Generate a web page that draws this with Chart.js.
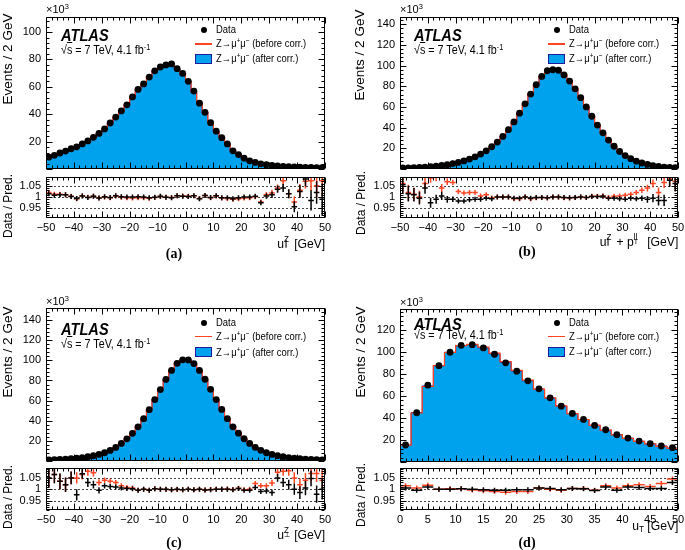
<!DOCTYPE html>
<html><head><meta charset="utf-8">
<script src="https://cdn.jsdelivr.net/npm/chart.js@4.4.1/dist/chart.umd.min.js"></script>
<style>
html,body{margin:0;padding:0;background:#fff;}
body{width:685px;height:550px;position:relative;overflow:hidden;font-family:"Liberation Sans",Arial,sans-serif;color:#000;}
canvas{position:absolute;}
.t{position:absolute;white-space:nowrap;line-height:1;}
.sp{position:relative;font-size:.68em;top:-.5em;}
.ss{display:inline-block;position:relative;width:.55em;height:1em;vertical-align:baseline;}
.ss .u{position:absolute;left:0;top:.16em;font-size:.66em;line-height:1;}
.ss .d{position:absolute;left:0;top:.86em;font-size:.58em;line-height:1;}
</style></head><body>
<script>
// ---------------- data ----------------
const binsSym = [-49,-47,-45,-43,-41,-39,-37,-35,-33,-31,-29,-27,-25,-23,-21,-19,-17,-15,-13,-11,-9,-7,-5,-3,-1,1,3,5,7,9,11,13,15,17,19,21,23,25,27,29,31,33,35,37,39,41,43,45,47,49];
const binsUT = [1,3,5,7,9,11,13,15,17,19,21,23,25,27,29,31,33,35,37,39,41,43,45,47,49];
const binHalfWidth = 1;

// (a) u_par^Z  [x10^3 events / 2 GeV]
const dataA   = [8.6,10.0,11.7,13.1,14.8,16.2,18.3,20.5,23.1,26.0,29.3,33.6,37.9,42.4,46.9,52.6,58.1,62.1,67.1,71.7,74.5,76.0,76.7,73.3,69.8,64.0,56.9,48.1,41.4,33.8,27.6,22.9,18.3,13.3,10.5,7.9,6.0,4.8,3.8,3.1,2.6,2.2,1.9,1.7,1.5,1.3,1.2,1.1,1.0,0.9];
const beforeA = [8.5,9.9,11.6,13.0,14.7,16.3,18.2,20.5,23.0,26.1,29.3,33.7,37.7,42.4,47.0,52.8,58.3,62.3,67.4,71.8,74.3,76.1,76.8,72.9,69.5,63.8,56.6,48.4,41.1,33.9,27.5,23.0,18.4,13.4,10.6,7.9,6.0,4.8,3.9,3.1,2.6,2.1,1.8,1.7,1.5,1.3,1.1,1.0,1.0,0.8];
const afterA  = [8.5,9.9,11.6,13.0,14.8,16.3,18.2,20.5,23.0,26.1,29.3,33.7,37.7,42.4,46.9,52.6,58.0,62.1,67.3,71.8,74.3,76.1,76.9,72.9,69.5,63.9,56.6,48.4,41.1,33.9,27.4,23.0,18.4,13.4,10.5,7.9,6.0,4.8,3.9,3.1,2.6,2.1,1.8,1.7,1.6,1.3,1.1,1.1,1.0,0.9];
const ratioBeforeA = [1.020,1.012,1.012,1.010,1.004,0.992,1.006,0.999,1.004,0.996,1.000,0.997,1.005,0.999,0.997,0.996,0.997,0.997,0.995,0.998,1.002,0.999,0.998,1.006,1.005,1.003,1.006,0.994,1.007,0.997,1.005,0.996,0.994,0.990,0.993,0.996,0.997,1.001,0.978,1.010,1.018,1.040,1.072,1.015,0.978,1.030,1.070,1.072,1.050,1.072];
const ratioAfterA  = [1.015,1.008,1.010,1.010,1.002,0.994,1.005,0.998,1.004,0.996,1.001,0.998,1.006,1.001,1.000,1.000,1.001,1.000,0.997,0.999,1.003,0.999,0.997,1.006,1.004,1.002,1.006,0.993,1.007,0.998,1.006,0.997,0.997,0.993,0.997,1.000,1.000,1.003,0.975,1.005,1.010,1.035,1.040,1.015,0.957,1.025,1.080,0.985,1.020,0.990];
const errA = [0.004,0.004,0.004,0.004,0.004,0.003,0.003,0.003,0.003,0.003,0.003,0.003,0.002,0.002,0.002,0.002,0.002,0.002,0.002,0.002,0.002,0.002,0.002,0.002,0.002,0.002,0.002,0.002,0.002,0.003,0.003,0.003,0.004,0.004,0.005,0.006,0.007,0.008,0.010,0.012,0.014,0.016,0.018,0.020,0.024,0.028,0.032,0.045,0.050,0.070];

// (b) u_par^Z + pT^ll
const dataB   = [1.0,1.1,1.3,1.6,1.9,2.3,2.8,3.4,4.2,5.2,6.4,7.8,9.6,11.8,14.4,17.6,21.5,26.0,31.5,38.0,45.5,54.0,63.0,72.5,81.5,89.5,95.0,96.0,95.5,91.0,85.0,77.5,69.0,60.0,51.0,42.5,35.0,28.0,22.0,17.0,13.0,10.0,7.6,5.8,4.4,3.3,2.5,1.9,1.5,1.2];
const beforeB = [0.9,1.1,1.3,1.6,1.8,2.1,2.6,3.3,3.9,4.9,6.2,7.7,9.4,11.6,14.3,17.4,21.6,26.0,31.5,38.0,45.8,54.4,63.0,73.0,81.7,89.7,95.4,96.0,95.5,91.3,85.3,77.6,69.0,60.1,50.8,42.4,34.8,28.1,21.9,16.9,12.9,9.9,7.5,5.6,4.2,3.1,2.5,1.8,1.4,1.1];
const afterB  = [0.9,1.1,1.3,1.6,1.8,2.4,2.8,3.4,4.2,5.3,6.5,7.9,9.7,11.9,14.5,17.7,21.7,26.0,31.5,38.0,45.7,54.3,63.0,72.9,81.7,89.7,95.3,96.0,95.5,91.2,85.3,77.7,69.0,60.1,50.9,42.4,34.9,28.1,22.1,17.1,13.1,10.1,7.7,5.8,4.4,3.3,2.5,1.9,1.4,1.1];
const ratioBeforeB = [1.060,1.020,1.012,1.000,1.060,1.085,1.090,1.040,1.068,1.065,1.025,1.018,1.020,1.020,1.005,1.010,0.996,1.000,1.000,1.000,0.993,0.993,1.000,0.993,0.997,0.998,0.996,1.000,1.000,0.997,0.996,0.998,1.000,0.998,1.003,1.003,1.005,0.998,1.003,1.005,1.008,1.012,1.020,1.030,1.040,1.060,1.020,1.065,1.080,1.070];
const ratioAfterB  = [1.055,1.015,1.010,0.995,1.040,0.975,0.990,1.005,0.990,0.990,0.983,0.983,0.988,0.990,0.990,0.995,0.992,1.000,1.000,1.000,0.995,0.995,1.000,0.995,0.998,0.998,0.997,1.000,1.000,0.998,0.997,0.998,1.000,0.998,1.002,1.002,1.004,0.995,0.995,0.993,0.990,0.995,0.993,0.995,0.990,0.995,0.985,0.985,1.075,1.060];
const errB = [0.040,0.035,0.030,0.028,0.025,0.022,0.020,0.018,0.015,0.012,0.010,0.009,0.008,0.007,0.006,0.005,0.004,0.003,0.003,0.002,0.002,0.002,0.002,0.002,0.002,0.002,0.002,0.002,0.002,0.002,0.002,0.002,0.002,0.002,0.003,0.003,0.004,0.004,0.005,0.006,0.007,0.008,0.010,0.012,0.015,0.018,0.022,0.025,0.030,0.035];

// (c) u_perp^Z
const dataC   = [1.1,1.3,1.6,1.9,2.3,2.8,3.4,4.2,5.2,6.5,8.2,10.5,13.5,17.5,22.0,27.5,34.0,42.0,51.0,61.0,71.0,81.0,90.0,97.0,100.5,100.4,96.8,90.0,81.2,71.2,61.0,51.2,42.0,34.0,27.6,22.1,17.5,13.6,10.6,8.2,6.5,5.3,4.2,3.4,2.8,2.3,1.9,1.6,1.3,1.1];
const beforeC = [1.0,1.2,1.5,1.9,2.2,2.7,3.2,3.9,4.8,6.3,7.9,10.1,13.1,17.2,21.8,27.4,34.1,42.0,51.3,60.9,71.0,81.1,90.2,97.1,100.7,100.4,97.0,90.0,81.4,71.3,61.0,51.2,42.0,34.0,27.5,22.1,17.5,13.3,10.4,8.1,6.3,4.9,3.9,3.1,2.7,2.3,1.8,1.5,1.2,1.1];
const afterC  = [1.0,1.2,1.5,1.9,2.2,2.9,3.2,4.1,5.1,6.5,8.1,10.4,13.4,17.4,21.9,27.4,34.2,42.0,51.3,60.9,71.0,81.0,90.2,97.0,100.7,100.4,97.0,90.0,81.4,71.3,61.0,51.2,42.0,34.1,27.5,22.2,17.6,13.5,10.7,8.3,6.6,5.0,4.1,3.3,2.8,2.3,1.9,1.5,1.3,1.1];
const ratioBeforeC = [1.050,1.065,1.035,1.020,1.050,1.050,1.065,1.080,1.073,1.030,1.040,1.035,1.030,1.015,1.008,1.005,0.996,1.000,0.995,1.002,1.000,0.999,0.998,0.999,0.998,1.000,0.998,1.000,0.997,0.999,1.000,1.000,1.001,0.999,1.004,0.998,1.000,1.025,1.015,1.015,1.028,1.075,1.080,1.082,1.050,1.020,1.040,1.070,1.070,1.040];
const ratioAfterC  = [1.050,1.065,1.035,1.020,1.050,0.975,1.068,1.030,1.020,0.995,1.015,1.012,1.010,1.005,1.003,1.002,0.995,1.000,0.995,1.002,1.000,1.000,0.998,1.000,0.998,1.000,0.998,1.000,0.997,0.998,1.000,1.000,1.000,0.998,1.003,0.995,0.995,1.008,0.990,0.992,0.985,1.050,1.030,1.020,1.000,0.985,1.005,1.048,0.978,1.000];
const errC = [0.040,0.038,0.035,0.032,0.028,0.025,0.022,0.020,0.017,0.014,0.012,0.010,0.008,0.007,0.006,0.005,0.004,0.003,0.002,0.002,0.002,0.002,0.002,0.002,0.002,0.002,0.002,0.002,0.002,0.002,0.002,0.002,0.003,0.004,0.005,0.006,0.007,0.008,0.010,0.012,0.014,0.017,0.020,0.022,0.025,0.028,0.032,0.035,0.038,0.045];

// (d) u_T
const dataD   = [15.4,44.6,69.6,87.3,99.4,105.7,106.3,103.3,97.6,89.8,82.2,73.5,66.3,58.1,50.6,44.0,38.6,33.1,29.2,24.7,21.7,19.0,16.6,14.5,13.0];
const beforeD = [15.2,44.4,68.4,87.3,99.2,105.5,106.6,104.0,98.6,91.0,83.0,74.2,66.0,58.1,50.9,43.9,38.5,33.2,28.8,24.6,21.4,18.6,16.4,14.1,12.4];
const afterD  = [15.3,44.8,68.9,87.3,99.4,105.5,106.3,103.5,98.1,90.3,82.4,73.6,66.0,57.9,50.7,43.9,38.5,33.3,28.9,24.8,21.5,18.8,16.5,14.5,12.6];
const ratioBeforeD = [1.015,1.005,1.018,1.000,1.002,1.002,0.997,0.993,0.990,0.987,0.990,0.990,1.005,1.000,0.995,1.003,1.003,0.996,1.015,1.005,1.015,1.020,1.012,1.025,1.045];
const ratioAfterD  = [1.005,0.995,1.010,1.000,1.000,1.002,1.000,0.998,0.995,0.995,0.998,0.998,1.005,1.003,0.998,1.003,1.002,0.994,1.010,0.995,1.010,1.008,1.003,1.003,1.030];
const errD = [0.006,0.004,0.003,0.003,0.002,0.002,0.002,0.002,0.002,0.002,0.002,0.003,0.003,0.003,0.003,0.003,0.004,0.004,0.004,0.005,0.005,0.005,0.006,0.006,0.007];

// tick labels
const yTicksA = [20,40,60,80,100];
const yTicksB = [20,40,60,80,100,120,140];
const yTicksC = [20,40,60,80,100,120,140];
const yTicksD = [20,40,60,80,100,120];
const xTicksSym = [-50,-40,-30,-20,-10,0,10,20,30,40,50];
const xTicksUT = [0,5,10,15,20,25,30,35,40,45,50];
const ratioTicks = [0.95,1,1.05];

// ---------------- style ----------------
const FONT = '"Liberation Sans", Arial, sans-serif';
const BLUE = '#00a2ee', NAVY = '#1a1a9a', RED = '#ff4422';

const atlasPlugin = {
  id: 'atlasFrame',
  defaults: {},
  beforeDatasetsDraw(chart, args, o) {
    if (!o.refLines) return;
    const {ctx, chartArea: a, scales: {y}} = chart;
    ctx.save(); ctx.setLineDash([2, 2]); ctx.strokeStyle = '#444'; ctx.lineWidth = 1;
    o.refLines.forEach(v => {
      const py = Math.round(y.getPixelForValue(v)) + 0.5;
      ctx.beginPath(); ctx.moveTo(a.left, py); ctx.lineTo(a.right, py); ctx.stroke();
    });
    ctx.restore();
  },
  afterDatasetsDraw(chart) {
    const {ctx, chartArea: a, scales: {x, y}} = chart;
    chart.data.datasets.forEach(ds => {
      if (!ds.errs) return;
      ctx.save();
      ctx.beginPath(); ctx.rect(a.left, a.top, a.right - a.left, a.bottom - a.top); ctx.clip();
      ctx.strokeStyle = ds.borderColor; ctx.lineWidth = 1.5;
      ds.data.forEach((p, j) => {
        const px = x.getPixelForValue(p.x), py = y.getPixelForValue(p.y);
        const x0 = x.getPixelForValue(p.x - ds.halfW), x1 = x.getPixelForValue(p.x + ds.halfW);
        const y0 = y.getPixelForValue(p.y - ds.errs[j]), y1 = y.getPixelForValue(p.y + ds.errs[j]);
        ctx.beginPath(); ctx.moveTo(x0, py); ctx.lineTo(x1, py);
        ctx.moveTo(px, Math.max(y0, py + 2.5)); ctx.lineTo(px, Math.min(y1, py - 2.5)); ctx.stroke();
      });
      ctx.restore();
    });
  },
  afterDraw(chart, args, o) {
    const {ctx, chartArea: a, scales: {x, y}} = chart;
    ctx.save(); ctx.strokeStyle = '#000'; ctx.lineWidth = 1;
    const L = Math.round(a.left) + 0.5, R = Math.round(a.right) - 0.5, T = Math.round(a.top) + 0.5, B = Math.round(a.bottom) - 0.5;
    ctx.strokeRect(L, T, R - L, B - T);
    ctx.beginPath();
    const each = (min, max, minor, major, fn) => {
      const k0 = Math.ceil(min / minor - 1e-9), k1 = Math.floor(max / minor + 1e-9);
      for (let k = k0; k <= k1; k++) { const v = k * minor, r = v / major; fn(v, Math.abs(r - Math.round(r)) < 1e-6); }
    };
    each(x.min, x.max, o.xMinor, o.xMajor, (v, maj) => {
      const p = Math.round(x.getPixelForValue(v)) + 0.5, len = maj ? o.xLen : o.xLen / 2;
      ctx.moveTo(p, B); ctx.lineTo(p, B - len); ctx.moveTo(p, T); ctx.lineTo(p, T + len);
    });
    each(y.min, y.max, o.yMinor, o.yMajor, (v, maj) => {
      const p = Math.round(y.getPixelForValue(v)) + 0.5, len = maj ? o.yLen : o.yLen / 2;
      ctx.moveTo(L, p); ctx.lineTo(L + len, p); ctx.moveTo(R, p); ctx.lineTo(R - len, p);
    });
    ctx.stroke(); ctx.restore();
  }
};
Chart.register(atlasPlugin);

function place(rect, xh) {
  const YW = 46, PT = 4, PR = 12, PB = xh ? 0 : 2;
  const cv = document.createElement('canvas');
  const w = Math.round(rect.r - rect.l) + YW + PR, h = Math.round(rect.b - rect.t) + PT + xh + PB;
  cv.width = w; cv.height = h;
  cv.style.left = (rect.l - YW) + 'px'; cv.style.top = (rect.t - PT) + 'px';
  cv.style.width = w + 'px'; cv.style.height = h + 'px';
  document.body.appendChild(cv);
  return {cv, pad: {left: 0, top: PT, right: PR, bottom: PB}, YW};
}

function histPoints(bins, vals) {
  const pts = [{x: bins[0] - binHalfWidth, y: 0}];
  bins.forEach((c, i) => pts.push({x: c - binHalfWidth, y: vals[i]}));
  const last = bins[bins.length - 1] + binHalfWidth;
  pts.push({x: last, y: vals[vals.length - 1]});
  pts.push({x: last, y: 0});
  return pts;
}
const fmtX = v => (v < 0 ? '\u2212' + Math.abs(v) : String(v));

function yAxis(min, max, ticks, YW, cb) {
  return {
    type: 'linear', min, max,
    afterFit: s => { s.width = YW; s.paddingTop = 0; s.paddingBottom = 0; },
    afterBuildTicks: s => { s.ticks = ticks.map(v => ({value: v})); },
    grid: {display: false, drawTicks: false}, border: {display: false},
    ticks: {padding: 5, color: '#000', font: {family: FONT, size: 11}, autoSkip: false, callback: cb || (v => String(v))}
  };
}

function makePanel(P) {
  // main
  const m = place(P.main, 0);
  new Chart(m.cv, {
    type: 'scatter',
    data: {datasets: [
      {label: 'Data', data: P.bins.map((c, i) => ({x: c, y: P.data[i]})), showLine: false,
       pointRadius: 3.4, pointBackgroundColor: '#000', pointBorderWidth: 0, order: 0},
      {label: 'before', data: histPoints(P.bins, P.before), showLine: true, stepped: true,
       borderColor: RED, borderWidth: 1.2, pointRadius: 0, fill: false, order: 1},
      {label: 'after', data: histPoints(P.bins, P.after), showLine: true, stepped: true,
       borderColor: NAVY, borderWidth: 1, backgroundColor: BLUE, fill: 'origin', pointRadius: 0, order: 2}
    ]},
    options: {
      responsive: false, animation: false, events: [],
      layout: {padding: m.pad},
      plugins: {legend: {display: false}, tooltip: {enabled: false},
        atlasFrame: {xMinor: P.xMinor, xMajor: P.xMajor, yMinor: P.yMinor, yMajor: P.yMajor, xLen: 6, yLen: 6}},
      scales: {
        x: {type: 'linear', min: P.xMin, max: P.xMax, display: false},
        y: yAxis(0, P.yMax, P.yTicks, m.YW)
      }
    }
  });
  // ratio
  const r = place(P.ratio, 22);
  new Chart(r.cv, {
    type: 'scatter',
    data: {datasets: [
      {label: 'before', data: P.bins.map((c, i) => ({x: c, y: P.rBefore[i]})), errs: P.err, halfW: binHalfWidth,
       borderColor: RED, pointRadius: 0, showLine: false},
      {label: 'after', data: P.bins.map((c, i) => ({x: c, y: P.rAfter[i]})), errs: P.err, halfW: binHalfWidth,
       borderColor: '#000', pointRadius: 0, showLine: false}
    ]},
    options: {
      responsive: false, animation: false, events: [],
      layout: {padding: r.pad},
      plugins: {legend: {display: false}, tooltip: {enabled: false},
        atlasFrame: {xMinor: P.xMinor, xMajor: P.xMajor, yMinor: 0.01, yMajor: 0.05, xLen: 6, yLen: 6, refLines: ratioTicks}},
      scales: {
        x: {type: 'linear', min: P.xMin, max: P.xMax,
            afterFit: s => { s.height = 22; s.paddingLeft = 0; s.paddingRight = 0; },
            afterBuildTicks: s => { s.ticks = P.xTicks.map(v => ({value: v})); },
            grid: {display: false, drawTicks: false}, border: {display: false},
            ticks: {padding: 3, color: '#000', font: {family: FONT, size: 11}, autoSkip: false, maxRotation: 0, callback: fmtX}},
        y: yAxis(P.rMin, P.rMax, ratioTicks, r.YW, v => String(v))
      }
    }
  });
}

// ---------------- text helpers ----------------
function T(html, x, y, css) {
  const d = document.createElement('div'); d.className = 't'; d.innerHTML = html;
  d.style.left = x + 'px'; d.style.top = y + 'px';
  Object.assign(d.style, css || {}); document.body.appendChild(d); return d;
}
function box(x, y, w, h, css) {
  const d = document.createElement('div'); d.style.position = 'absolute';
  d.style.left = x + 'px'; d.style.top = y + 'px'; d.style.width = w + 'px'; d.style.height = h + 'px';
  Object.assign(d.style, css); document.body.appendChild(d);
}
const ZMM = 'Z\u2192\u03bc<span class="sp">+</span>\u03bc<span class="sp">\u2212</span>';
function decorate(D) {
  T('\u00d710<span class="sp">3</span>', D.exp[0], D.exp[1], {fontSize: '11px'});
  T('ATLAS', D.atlas[0], D.atlas[1], {fontSize: '17px', fontWeight: 'bold', fontStyle: 'italic', transform: 'scaleX(.86)', transformOrigin: '0 0'});
  T('\u221a<span style="text-decoration:overline">s</span> = 7 TeV, 4.1 fb<span class="sp">-1</span>', D.sqrt[0], D.sqrt[1],
    {fontSize: '12.5px', transform: 'scaleX(.86)', transformOrigin: '0 0'});
  const lg = {fontSize: '11.5px', transform: 'scaleX(.82)', transformOrigin: '0 0'};
  box(D.dotX - 3.2, D.ly[0] - 3.2, 6.4, 6.4, {background: '#000', borderRadius: '50%'});
  T('Data', D.textX, D.ly[0] - 5.6, lg);
  box(D.lineX, D.ly[1] - 0.75, 17, 1.5, {background: RED});
  T(ZMM + ' (before corr.)', D.textX, D.ly[1] - 5.6, lg);
  box(D.lineX, D.ly[2] - 5, 17, 10, {background: BLUE, border: '1.5px solid ' + NAVY, boxSizing: 'border-box'});
  T(ZMM + ' (after corr.)', D.textX, D.ly[2] - 5.6, lg);
  T('Events / 2 GeV', D.yt1[0], D.yt1[1], {fontSize: '13.5px', transform: 'translate(-50%,-50%) rotate(-90deg)'});
  T('Data / Pred.', D.yt2[0], D.yt2[1], {fontSize: '12px', transform: 'translate(-50%,-50%) rotate(-90deg)'});
  const xt = T(D.xtitle, 0, D.xt[1], {fontSize: '13.5px', transform: 'scaleX(.9)', transformOrigin: '100% 0'});
  xt.style.left = ''; xt.style.right = (685 - D.xt[0]) + 'px';
  T(D.label, D.lab[0], D.lab[1], {fontSize: '14px', fontWeight: 'bold', fontFamily: '"Liberation Serif", serif', transform: 'translate(-50%,-50%)'});
}
const SS = (u, d) => '<span class="ss"><span class="u">' + u + '</span><span class="d">' + d + '</span></span>';

// ---------------- panels ----------------
const panels = [
  {bins: binsSym, data: dataA, before: beforeA, after: afterA, rBefore: ratioBeforeA, rAfter: ratioAfterA, err: errA,
   main: {l: 46, r: 325, t: 17, b: 171}, ratio: {l: 46, r: 325, t: 177, b: 218}, yMax: 111, yTicks: yTicksA,
   rMin: 0.907, rMax: 1.089, xMin: -50, xMax: 50, xTicks: xTicksSym, xMajor: 10, xMinor: 2, yMajor: 20, yMinor: 4},
  {bins: binsSym, data: dataB, before: beforeB, after: afterB, rBefore: ratioBeforeB, rAfter: ratioAfterB, err: errB,
   main: {l: 400, r: 678, t: 17, b: 171}, ratio: {l: 400, r: 678, t: 177, b: 218}, yMax: 147, yTicks: yTicksB,
   rMin: 0.907, rMax: 1.089, xMin: -50, xMax: 50, xTicks: xTicksSym, xMajor: 10, xMinor: 2, yMajor: 20, yMinor: 4},
  {bins: binsSym, data: dataC, before: beforeC, after: afterC, rBefore: ratioBeforeC, rAfter: ratioAfterC, err: errC,
   main: {l: 46, r: 325, t: 308, b: 463}, ratio: {l: 46, r: 325, t: 468, b: 510}, yMax: 152, yTicks: yTicksC,
   rMin: 0.908, rMax: 1.094, xMin: -50, xMax: 50, xTicks: xTicksSym, xMajor: 10, xMinor: 2, yMajor: 20, yMinor: 4},
  {bins: binsUT, data: dataD, before: beforeD, after: afterD, rBefore: ratioBeforeD, rAfter: ratioAfterD, err: errD,
   main: {l: 400, r: 678, t: 309, b: 464}, ratio: {l: 400, r: 678, t: 468, b: 510}, yMax: 138.6, yTicks: yTicksD,
   rMin: 0.908, rMax: 1.094, xMin: 0, xMax: 50, xTicks: xTicksUT, xMajor: 5, xMinor: 1, yMajor: 20, yMinor: 4}
];
panels.forEach(makePanel);

decorate({exp: [46, 3.5], atlas: [61, 27], sqrt: [61, 44.4], dotX: 204, lineX: 195, textX: 216, ly: [30, 44, 59],
  yt1: [8, 58.5], yt2: [8, 206], xt: [325, 233.6], xtitle: 'u' + SS('Z', '\u2225') + ' [GeV]', lab: [174, 254], label: '(a)'});
decorate({exp: [400, 3.5], atlas: [414, 27], sqrt: [414, 44.4], dotX: 557, lineX: 548, textX: 569, ly: [30, 44, 58.5],
  yt1: [360, 55], yt2: [361, 203], xt: [678, 231.6], xtitle: 'u' + SS('Z', '\u2225') + ' + p' + SS('ll', 'T') + ' &nbsp;[GeV]', lab: [527, 251.5], label: '(b)'});
decorate({exp: [46, 295.7], atlas: [61, 320.8], sqrt: [61, 338.4], dotX: 204, lineX: 195, textX: 216, ly: [322.7, 336.7, 352.2],
  yt1: [8, 352], yt2: [8, 497], xt: [325, 524.6], xtitle: 'u' + SS('Z', '\u22a5') + ' [GeV]', lab: [174, 543], label: '(c)'});
decorate({exp: [400, 296.7], atlas: [414, 315.8], sqrt: [414, 329.4], dotX: 557, lineX: 548, textX: 569, ly: [322.7, 336.7, 352],
  yt1: [361, 352], yt2: [361, 495], xt: [678, 518.6], xtitle: 'u<span style="position:relative;top:.3em;font-size:.68em">T</span> [GeV]', lab: [527, 543], label: '(d)'});
</script>
</body></html>
